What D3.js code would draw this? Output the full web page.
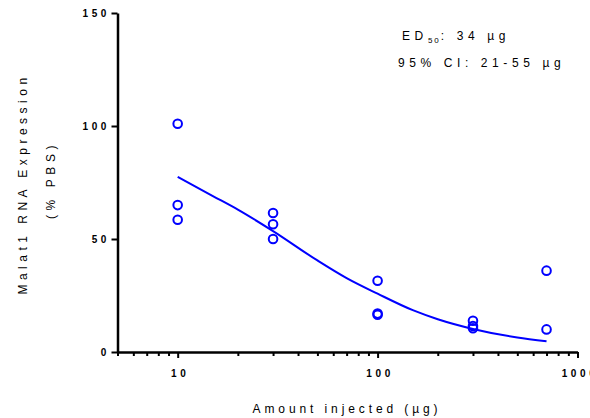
<!DOCTYPE html>
<html>
<head>
<meta charset="utf-8">
<script src="https://cdn.jsdelivr.net/npm/d3@7"></script>
<style>
  body { margin: 0; background: #fff; }
  svg text { font-family: "Liberation Sans", Arial, sans-serif; }
</style>
</head>
<body>
<div id="chart"></div>
<script>
const width = 590, height = 418;

// replicate measurements (dose in µg, % PBS)
const doses = [10, 10, 10, 30, 30, 30, 100, 100, 100, 300, 300, 300, 700, 700];
const expression = [101, 65, 58.5, 61.5, 56.5, 50, 31.5, 17, 16.5, 13.8, 11.5, 10.5, 36, 10];

// fitted curve
const curveDoses = [10, 15, 20, 30, 50, 70, 100, 150, 200, 300, 500, 700];
const curveValues = [77.5, 69, 63, 53.5, 40.5, 32.7, 25.8, 18.5, 14.5, 10.2, 6.4, 4.7];

const yTicks = [0, 50, 100, 150];
const xMajor = [10, 100, 1000];
const annotations = ['ED', ': 34 µg'];

const svg = d3.select('#chart').append('svg')
    .attr('width', width)
    .attr('height', height);

const x = d3.scaleLog().domain([5, 1000]).range([117.5, 577.5]);
const y = d3.scaleLinear().domain([0, 150]).range([352, 13]);

const blue = '#0000ff';

// minor x ticks
const minor = x.ticks().filter(d => !xMajor.includes(d));
svg.append('g')
    .attr('transform', `translate(0,${y(0)})`)
    .call(d3.axisBottom(x).tickValues(minor).tickSize(4).tickFormat(''))
    .call(g => g.select('.domain').remove())
    .call(g => g.selectAll('line').attr('stroke', '#000').attr('stroke-width', 2));

// major x ticks + labels
svg.append('g')
    .attr('transform', `translate(0,${y(0)})`)
    .call(d3.axisBottom(x).tickValues(xMajor).tickSize(6).tickSizeOuter(0).tickFormat(d3.format('d')))
    .call(g => g.select('.domain').attr('stroke-width', 2.5))
    .call(g => g.selectAll('line').attr('stroke-width', 2))
    .call(g => g.selectAll('text')
        .attr('y', 18)
        .attr('dx', '2px')
        .style('font-size', '10px')
        .style('font-weight', 'bold')
        .style('letter-spacing', '3.6px'));

// y axis
svg.append('g')
    .attr('transform', `translate(${x(5)},0)`)
    .call(d3.axisLeft(y).tickValues(yTicks).tickSize(6).tickSizeOuter(0))
    .call(g => g.select('.domain').attr('stroke-width', 2.5))
    .call(g => g.selectAll('line').attr('stroke-width', 2))
    .call(g => g.selectAll('text')
        .attr('x', -7.5)
        .attr('dy', '0.35em')
        .style('font-size', '10px')
        .style('font-weight', 'bold')
        .style('letter-spacing', '3.6px'));

// fitted curve
svg.append('path')
    .datum(curveDoses.map((d, i) => [d, curveValues[i]]))
    .attr('fill', 'none')
    .attr('stroke', blue)
    .attr('stroke-width', 2)
    .attr('d', d3.line().x(d => x(d[0])).y(d => y(d[1])).curve(d3.curveMonotoneX));

// points
svg.append('g')
    .selectAll('circle')
    .data(doses.map((d, i) => [d, expression[i]]))
    .enter().append('circle')
    .attr('cx', d => x(d[0]))
    .attr('cy', d => y(d[1]))
    .attr('r', 4.3)
    .attr('fill', 'none')
    .attr('stroke', blue)
    .attr('stroke-width', 2);

// axis titles
svg.append('text')
    .attr('x', 347).attr('y', 413)
    .attr('text-anchor', 'middle')
    .style('font-size', '12px')
    .style('letter-spacing', '3.9px')
    .text('Amount injected (µg)');

svg.append('text')
    .attr('transform', 'translate(27,184) rotate(-90)')
    .attr('text-anchor', 'middle')
    .style('font-size', '12px')
    .style('letter-spacing', '4.5px')
    .text('Malat1 RNA Expression');

svg.append('text')
    .attr('transform', 'translate(55,180) rotate(-90)')
    .attr('text-anchor', 'middle')
    .style('font-size', '12px')
    .style('letter-spacing', '4.6px')
    .text('(% PBS)');

// ED50 annotation
const ed = svg.append('text')
    .attr('x', 402).attr('y', 40)
    .style('font-size', '12px')
    .style('letter-spacing', '4.6px');
ed.append('tspan').text(annotations[0]);
ed.append('tspan').attr('dy', 3).style('font-size', '8px').style('letter-spacing', '2px').text('50');
ed.append('tspan').attr('dy', -3).text(annotations[1]);

svg.append('text')
    .attr('x', 398).attr('y', 67)
    .style('font-size', '12px')
    .style('letter-spacing', '4.6px')
    .text('95% CI: 21-55 µg');
</script>
</body>
</html>
